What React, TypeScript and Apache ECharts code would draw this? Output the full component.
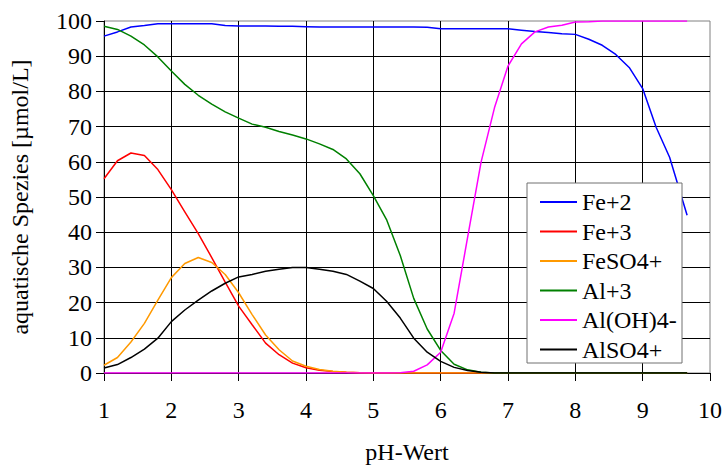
import React, { useEffect, useRef } from "react";
import * as echarts from "echarts";

const pH = [1.0, 1.2, 1.4, 1.6, 1.8, 2.0, 2.2, 2.4, 2.6, 2.8, 3.0, 3.2, 3.4, 3.6, 3.8, 4.0, 4.2, 4.4, 4.6, 4.8, 5.0, 5.2, 5.4, 5.6, 5.8, 6.0, 6.2, 6.4, 6.6, 6.8, 7.0, 7.2, 7.4, 7.6, 7.8, 8.0, 8.2, 8.4, 8.6, 8.8, 9.0, 9.2, 9.4, 9.66];

const fe2 = [95.7, 96.9, 98.3, 98.7, 99.2, 99.2, 99.2, 99.2, 99.2, 98.7, 98.6, 98.6, 98.6, 98.5, 98.5, 98.4, 98.3, 98.3, 98.3, 98.3, 98.3, 98.3, 98.3, 98.3, 98.2, 97.8, 97.8, 97.8, 97.8, 97.8, 97.8, 97.4, 97.0, 96.7, 96.4, 96.2, 94.8, 93.1, 90.5, 86.8, 80.8, 69.8, 61.3, 44.8];
const fe3 = [55.2, 60.3, 62.5, 61.8, 57.8, 52.1, 45.8, 39.6, 32.8, 25.8, 19.0, 13.7, 8.5, 5.2, 2.8, 1.5, 0.8, 0.4, 0.2, 0.1, 0, 0, 0, 0, 0, 0, 0, 0, 0, 0, 0, 0, 0, 0, 0, 0, 0, 0, 0, 0, 0, 0, 0, 0];
const feso4 = [2.2, 4.4, 8.8, 14.1, 20.7, 27.1, 31.1, 32.8, 31.4, 28.0, 22.8, 16.6, 10.8, 6.6, 3.4, 1.9, 1.0, 0.5, 0.2, 0.1, 0, 0, 0, 0, 0, 0, 0, 0, 0, 0, 0, 0, 0, 0, 0, 0, 0, 0, 0, 0, 0, 0, 0, 0];
const al3 = [98.5, 97.6, 95.7, 93.2, 89.8, 85.8, 82.0, 78.9, 76.4, 74.2, 72.4, 70.7, 69.8, 68.6, 67.6, 66.5, 65.1, 63.5, 60.8, 56.6, 50.4, 43.4, 33.4, 21.2, 12.5, 6.4, 2.5, 0.9, 0.2, 0, 0, 0, 0, 0, 0, 0, 0, 0, 0, 0, 0, 0, 0, 0];
const aloh4 = [0, 0, 0, 0, 0, 0, 0, 0, 0, 0, 0, 0, 0, 0, 0, 0, 0, 0, 0, 0, 0, 0, 0.1, 0.5, 2.3, 5.9, 17.0, 38.5, 59.9, 75.4, 87.2, 93.5, 96.9, 98.3, 98.8, 99.7, 99.8, 100, 100, 100, 100, 100, 100, 100];
const also4 = [1.4, 2.4, 4.4, 6.8, 9.9, 14.6, 17.9, 20.7, 23.3, 25.5, 27.3, 28.0, 28.9, 29.5, 30.0, 30.0, 29.5, 28.9, 28.0, 26.1, 24.0, 20.3, 15.6, 9.9, 5.9, 3.3, 1.6, 0.7, 0.2, 0, 0, 0, 0, 0, 0, 0, 0, 0, 0, 0, 0, 0, 0, 0];

const seriesNames = ["Fe+2", "Fe+3", "FeSO4+", "Al+3", "Al(OH)4-", "AlSO4+"];
const seriesValues = [fe2, fe3, feso4, al3, aloh4, also4];
const seriesColors = ["#0000FF", "#FF0000", "#FF9900", "#008000", "#FF00FF", "#000000"];

const FONT = "Liberation Serif, Times New Roman, serif";
const FS = 24;

export default function App() {
  const ref = useRef<HTMLDivElement>(null);
  useEffect(() => {
    if (!ref.current) return;
    document.body.style.margin = "0";
    const chart = echarts.init(ref.current, null, { renderer: "svg" });
    chart.setOption({
      animation: false,
      backgroundColor: "#ffffff",
      textStyle: { fontFamily: FONT, color: "#000" },
      grid: {
        left: 103,
        right: 14,
        top: 21,
        bottom: 94,
        show: true,
        borderColor: "#808080",
        borderWidth: 1,
      },
      xAxis: {
        type: "value",
        min: 1,
        max: 10,
        interval: 1,
        name: "pH-Wert",
        nameLocation: "middle",
        nameGap: 67,
        nameTextStyle: { fontFamily: FONT, fontSize: FS, color: "#000" },
        axisLine: { show: true, onZero: false, lineStyle: { color: "#000", width: 1 } },
        axisTick: { show: true, length: 8, lineStyle: { color: "#000" } },
        axisLabel: { fontFamily: FONT, fontSize: FS, color: "#000", margin: 25 },
        splitLine: { show: true, showMaxLine: false, lineStyle: { color: "#000", width: 1 } },
      },
      yAxis: {
        type: "value",
        min: 0,
        max: 100,
        interval: 10,
        name: "aquatische Spezies [µmol/L]",
        nameLocation: "middle",
        nameGap: 72,
        nameTextStyle: { fontFamily: FONT, fontSize: FS, color: "#000" },
        axisLine: { show: true, lineStyle: { color: "#000", width: 1 } },
        axisTick: { show: true, length: 8, lineStyle: { color: "#000" } },
        axisLabel: { fontFamily: FONT, fontSize: FS, color: "#000", margin: 12 },
        splitLine: { show: true, showMaxLine: false, lineStyle: { color: "#000", width: 1 } },
      },
      legend: {
        orient: "vertical",
        left: 540,
        top: 190,
        padding: 0,
        itemWidth: 37,
        itemHeight: 2,
        itemGap: 5.5,
        icon: "rect",
        z: 10,
        textStyle: { fontFamily: FONT, fontSize: FS, color: "#000", lineHeight: 23 },
        data: seriesNames,
      },
      graphic: {
        elements: [
          {
            type: "rect",
            z: 5,
            shape: { x: 527, y: 183, width: 155, height: 180 },
            style: { fill: "#ffffff", stroke: "#707070", lineWidth: 1 },
          },
        ],
      },
      series: seriesNames.map((name, i) => ({
        name,
        type: "line",
        data: pH.map((x, j) => [x, seriesValues[i][j]]),
        symbol: "none",
        showSymbol: false,
        color: seriesColors[i],
        lineStyle: { color: seriesColors[i], width: 1.5 },
        z: 2,
      })),
    });
    return () => chart.dispose();
  }, []);
  return (
    <div
      ref={ref}
      style={{ position: "absolute", left: 0, top: 0, width: 725, height: 469 }}
    />
  );
}
